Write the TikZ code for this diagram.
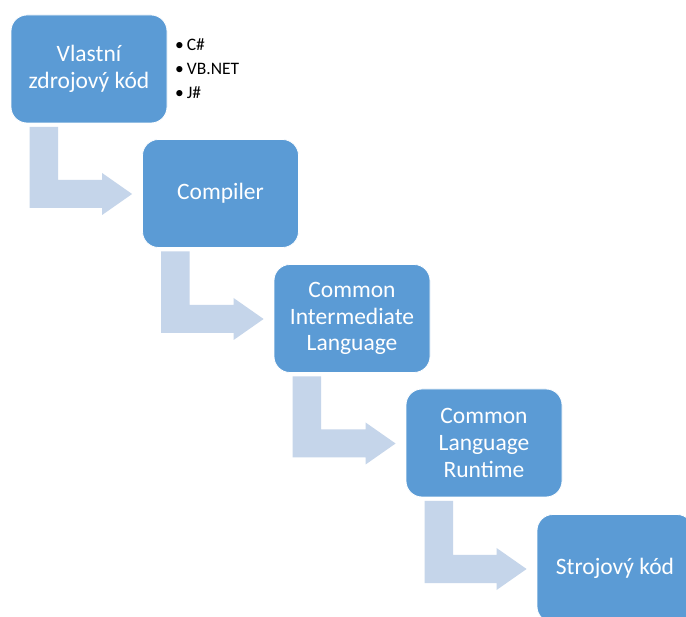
\documentclass[tikz,border=0pt]{standalone}
\usepackage{fontspec}
\setmainfont{Carlito}
\usetikzlibrary{calc}
\definecolor{boxblue}{HTML}{5B9BD5}
\definecolor{arrowblue}{HTML}{C5D5EA}
\tikzset{
  stepbox/.style={rounded corners=16pt, fill=boxblue, draw=white, line width=0.8pt,
    minimum width=156pt, minimum height=108pt, text=white, align=center,
    font=\fontsize{23.5}{26.7}\selectfont, inner sep=0pt},
  bentarrow/.style={fill=arrowblue},
  bullets/.style={align=left, font=\fontsize{17.5}{24}\selectfont, anchor=north west, inner sep=0pt}
}
\newcommand\bentarr[2]{%
  \path (#1.south west) ++(19,3.5) coordinate (p1);
  \path (#2.west) ++(-10,0.5) coordinate (tip);
  \path (tip) ++(-30,14) coordinate (hb);
  \fill[bentarrow] (p1) -- ++(28.5,0) |- ($(tip)+(-30,-14)$) -- ++(0,-7) -- (tip)
    -- ++(-30,21) -- ++(0,-7) -- (p1 |- hb) -- cycle;
}
\begin{document}
\begin{tikzpicture}[x=1pt,y=-1pt]
\clip (0,0) rectangle (686,617);
\fill[white] (0,0) rectangle (686,617);
\node[stepbox] (b1) at (89,69) {Vlastní\\zdrojový kód};
\node[stepbox] (b2) at (220.5,193.5) {Compiler};
\node[stepbox] (b3) at (352,318.5) {Common\\Intermediate\\Language};
\node[stepbox] (b4) at (484,443) {Common\\Language\\Runtime};
\node[stepbox] (b5) at (615,568.5) {Strojový kód};
\bentarr{b1}{b2}
\bentarr{b2}{b3}
\bentarr{b3}{b4}
\bentarr{b4}{b5}
\node[bullets] (list) at (175,38.7) {•\hspace{3pt}C\#\\•\hspace{3pt}VB.NET\\•\hspace{3pt}J\#};
\end{tikzpicture}
\end{document}
